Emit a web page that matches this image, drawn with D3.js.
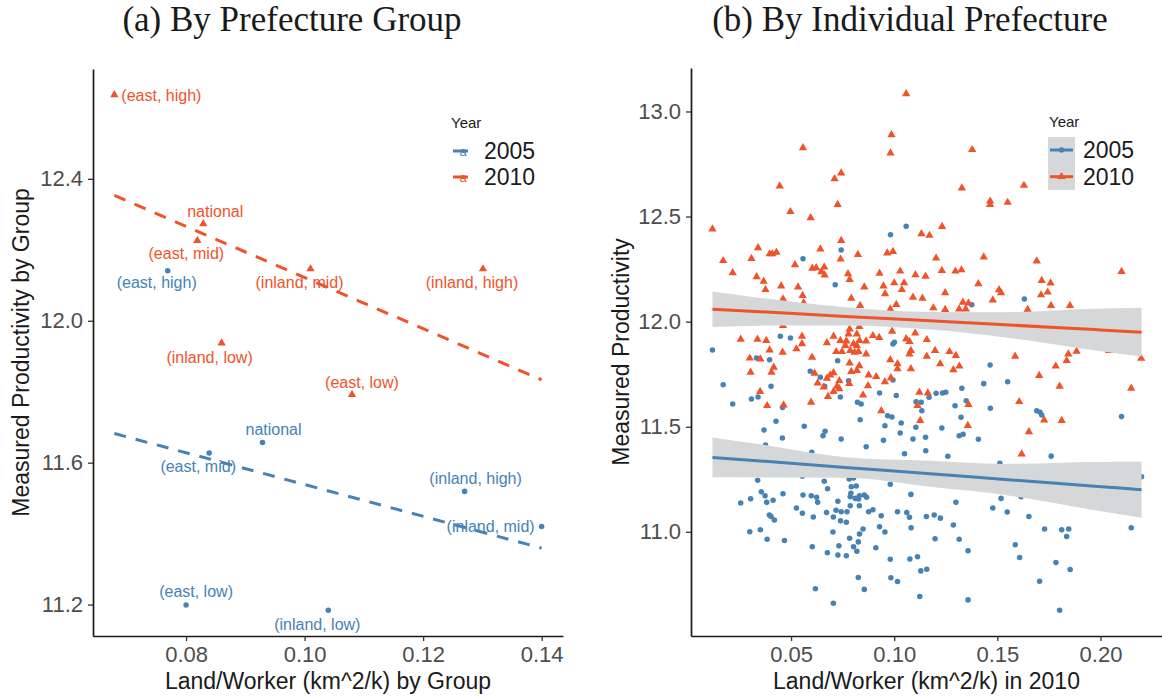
<!DOCTYPE html>
<html>
<head>
<meta charset="utf-8">
<script src="https://cdn.jsdelivr.net/npm/d3@7"></script>
<style>
  body { margin: 0; background: #fff; }
  svg text { font-family: "Liberation Sans", Arial, sans-serif; }
  svg text.title { font-family: "Liberation Serif", "Times New Roman", serif; }
</style>
</head>
<body>
<svg id="chart" width="1162" height="700"></svg>
<script>
// ---- data: (a) prefecture groups ----
const groupNames = ["(east, high)", "(east, mid)", "(east, low)", "(inland, high)", "(inland, mid)", "(inland, low)", "national"];
const groupLand2005 = [0.0769, 0.0839, 0.0800, 0.1270, 0.1400, 0.1040, 0.0929];
const groupProd2005 = [12.141, 11.627, 11.199, 11.519, 11.420, 11.184, 11.657];
const groupLand2010 = [0.0679, 0.0819, 0.1080, 0.1301, 0.1010, 0.0860, 0.0829];
const groupProd2010 = [12.637, 12.226, 11.792, 12.146, 12.146, 11.937, 12.273];
const groupTicksX = [0.08, 0.10, 0.12, 0.14];
const groupTicksY = [11.2, 11.6, 12.0, 12.4];

// ---- data: (b) individual prefectures, [land/worker, productivity] ----
const pref2005 = [
  [0.0743,12.341],[0.0558,12.299],[0.1058,12.454],[0.0982,12.413],[0.0119,11.865],[0.0333,11.827],
  [0.0171,11.700],[0.0217,11.608],[0.0308,11.632],[0.0340,11.641],[0.0714,12.176],[0.0448,11.930],
  [0.0497,11.922],[0.0994,11.894],[0.1001,11.902],[0.0396,11.819],[0.0726,11.814],[0.0593,11.764],
  [0.0642,11.735],[0.0779,11.719],[0.0994,11.722],[0.0663,11.692],[0.0403,11.692],[0.0739,11.641],
  [0.0929,11.660],[0.1010,11.648],[0.0822,11.616],[0.0840,11.608],[0.0459,11.592],[0.1106,11.619],
  [0.1131,11.616],[0.1134,11.576],[0.0968,11.552],[0.0989,11.546],[0.0835,11.533],[0.0427,11.526],
  [0.1034,11.518],[0.0564,11.502],[0.0955,11.505],[0.1105,11.497],[0.1376,12.080],[0.1631,12.108],
  [0.1465,11.794],[0.1550,11.714],[0.1434,11.705],[0.1328,11.683],[0.1169,11.640],[0.1203,11.659],
  [0.1234,11.660],[0.1250,11.664],[0.1349,11.624],[0.1295,11.600],[0.1466,11.588],[0.1691,11.576],
  [0.1707,11.569],[0.1715,11.556],[0.1324,11.545],[0.1231,11.494],[0.2102,11.548],[0.0369,11.484],
  [0.0655,11.457],[0.0665,11.478],[0.0458,11.446],[0.0743,11.441],[0.0376,11.413],[0.0600,11.378],
  [0.0338,11.245],[0.0555,11.264],[0.0661,11.241],[0.0677,11.205],[0.0356,11.190],[0.0374,11.171],
  [0.0256,11.137],[0.0304,11.157],[0.0382,11.140],[0.0413,11.150],[0.0461,11.181],[0.0558,11.175],
  [0.0598,11.171],[0.0624,11.164],[0.0629,11.140],[0.0727,11.145],[0.0526,11.113],[0.0555,11.088],
  [0.0672,11.092],[0.0718,11.103],[0.0743,11.095],[0.0395,11.080],[0.0403,11.073],[0.0419,11.056],
  [0.0608,11.070],[0.0705,11.070],[0.0740,11.052],[0.0300,11.000],[0.0351,11.010],[0.0384,10.965],
  [0.0468,10.959],[0.0703,10.999],[0.0603,10.929],[0.0676,10.900],[0.0732,10.933],[0.0727,10.889],
  [0.0618,10.729],[0.0705,10.660],[0.0864,11.405],[0.1050,11.371],[0.1153,11.386],[0.1260,11.359],
  [0.1512,11.326],[0.0782,11.251],[0.0803,11.256],[0.0792,11.214],[0.0816,11.218],[0.0981,11.226],
  [0.1185,11.232],[0.0790,11.183],[0.0787,11.167],[0.0811,11.159],[0.0831,11.171],[0.0855,11.175],
  [0.0866,11.164],[0.0827,11.156],[0.1081,11.178],[0.0787,11.124],[0.0831,11.124],[0.0771,11.095],
  [0.0876,11.095],[0.0897,11.105],[0.0937,11.076],[0.1016,11.095],[0.1061,11.092],[0.1074,11.069],
  [0.1156,11.073],[0.1194,11.080],[0.1224,11.065],[0.1299,11.140],[0.1478,11.113],[0.0768,11.045],
  [0.0929,11.024],[0.0955,10.999],[0.1082,11.019],[0.1287,11.032],[0.0849,11.013],[0.0832,10.989],
  [0.0784,10.969],[0.0826,10.952],[0.1198,10.967],[0.1315,10.964],[0.0803,10.929],[0.0819,10.907],
  [0.0768,10.886],[0.0911,10.924],[0.1358,10.910],[0.0981,10.869],[0.1076,10.870],[0.1113,10.881],
  [0.1129,10.814],[0.1158,10.822],[0.0826,10.783],[0.0984,10.781],[0.1016,10.764],[0.0855,10.726],
  [0.1124,10.692],[0.1358,10.676],[0.1152,11.450],[0.1091,11.441],[0.0948,11.435],[0.1029,11.470],
  [0.1315,11.457],[0.1334,11.464],[0.1408,11.440],[0.1761,11.360],[0.1518,11.159],[0.2199,11.262],
  [0.1615,11.167],[0.1548,11.094],[0.1653,11.073],[0.1729,11.013],[0.1812,11.010],[0.1846,11.013],
  [0.1836,10.978],[0.2149,11.019],[0.1587,10.938],[0.1608,10.878],[0.1784,10.854],[0.1853,10.821],
  [0.1705,10.765],[0.1802,10.627]
];
const pref2010 = [
  [0.0558,12.827],[0.0743,12.707],[0.0711,12.680],[0.0445,12.645],[0.0726,12.557],[0.0497,12.523],
  [0.0595,12.494],[0.0119,12.440],[0.0743,12.386],[0.0340,12.351],[0.0642,12.345],[0.0171,12.290],
  [0.0308,12.300],[0.0396,12.322],[0.0409,12.322],[0.0429,12.330],[0.0740,12.297],[0.0519,12.270],
  [0.0603,12.254],[0.0622,12.256],[0.0661,12.259],[0.0217,12.232],[0.0647,12.237],[0.0663,12.222],
  [0.0333,12.213],[0.0367,12.192],[0.0256,11.916],[0.0337,11.916],[0.0300,11.826],[0.0304,11.759],
  [0.0350,11.667],[0.1058,13.084],[0.0987,12.889],[0.0982,12.802],[0.1378,12.818],[0.1328,12.635],
  [0.1465,12.573],[0.1465,12.557],[0.1232,12.452],[0.1132,12.418],[0.1171,12.410],[0.0824,12.319],
  [0.0966,12.326],[0.0994,12.333],[0.1203,12.302],[0.1434,12.307],[0.0776,12.227],[0.0929,12.230],
  [0.1029,12.240],[0.1103,12.223],[0.1152,12.216],[0.1231,12.243],[0.1297,12.240],[0.1326,12.246],
  [0.1629,12.648],[0.1550,12.567],[0.1691,12.288],[0.2102,12.238],[0.2042,11.862],[0.2197,11.825],
  [0.2149,11.683],[0.0452,12.169],[0.0376,12.152],[0.0534,12.164],[0.0784,12.200],[0.0855,12.164],
  [0.0948,12.169],[0.1000,12.184],[0.1048,12.184],[0.1037,12.152],[0.0956,12.132],[0.0556,12.124],
  [0.0461,12.108],[0.0792,12.111],[0.1091,12.116],[0.1137,12.111],[0.1010,12.081],[0.0561,12.089],
  [0.0835,12.076],[0.0981,12.060],[0.0461,11.981],[0.0784,11.965],[0.0831,11.976],[0.0990,11.954],
  [0.1102,11.945],[0.0553,11.930],[0.0706,11.930],[0.0779,11.941],[0.0819,11.941],[0.0897,11.933],
  [0.0927,11.924],[0.0380,11.910],[0.0739,11.910],[0.0768,11.907],[0.0832,11.910],[0.0864,11.907],
  [0.1058,11.918],[0.1074,11.905],[0.0674,11.899],[0.0553,11.894],[0.0803,11.894],[0.0819,11.886],
  [0.0763,11.886],[0.0396,11.865],[0.0526,11.870],[0.0459,11.854],[0.0719,11.857],[0.0747,11.857],
  [0.0787,11.862],[0.0808,11.854],[0.0827,11.857],[0.0864,11.846],[0.1081,11.862],[0.1074,11.846],
  [0.0602,11.830],[0.0351,11.822],[0.0981,11.818],[0.0784,11.803],[0.1016,11.799],[0.0831,11.790],
  [0.0416,11.783],[0.1016,11.775],[0.1081,11.775],[0.0405,11.759],[0.0819,11.767],[0.0706,11.756],
  [0.0690,11.746],[0.0614,11.754],[0.0876,11.746],[0.0913,11.738],[0.0792,11.762],[0.0674,11.730],
  [0.0734,11.719],[0.0984,11.733],[0.0955,11.714],[0.0629,11.708],[0.0782,11.705],[0.0723,11.692],
  [0.0873,11.695],[0.0658,11.688],[0.0734,11.680],[0.0706,11.667],[0.0679,11.643],[0.0849,11.651],
  [0.1122,11.664],[0.0597,11.616],[0.0464,11.603],[0.0384,11.600],[0.1113,11.600],[0.0937,11.576],
  [0.1126,11.529],[0.1408,12.180],[0.1715,12.195],[0.1758,12.183],[0.1247,12.137],[0.1508,12.151],
  [0.1518,12.137],[0.1712,12.127],[0.1744,12.140],[0.1478,12.103],[0.1333,12.092],[0.1360,12.088],
  [0.1190,12.065],[0.1247,12.057],[0.1315,12.060],[0.1347,12.060],[0.1760,12.076],[0.1852,12.076],
  [0.1647,12.057],[0.1158,11.914],[0.1198,11.862],[0.1268,11.857],[0.1299,11.838],[0.1158,11.835],
  [0.1586,11.835],[0.1844,11.846],[0.1884,11.859],[0.1836,11.814],[0.1223,11.799],[0.1316,11.788],
  [0.1287,11.771],[0.1783,11.788],[0.1703,11.743],[0.1802,11.692],[0.1163,11.660],[0.1606,11.619],
  [0.1360,11.605],[0.1727,11.532],[0.1812,11.529],[0.1357,11.505],[0.1653,11.476],[0.1618,11.370]
];
const prefTicksX = [0.05, 0.10, 0.15, 0.20];
const prefTicksY = [11.0, 11.5, 12.0, 12.5, 13.0];

// lm fit with 95% band
const bandX   = [0.0119, 0.0351, 0.0763, 0.1174, 0.1537, 0.1973, 0.2199];
const fit2005 = [11.354, 11.337, 11.306, 11.276, 11.249, 11.217, 11.200];
const lo2005  = [11.259, 11.258, 11.257, 11.214, 11.175, 11.102, 11.067];
const hi2005  = [11.449, 11.416, 11.355, 11.338, 11.323, 11.332, 11.333];
const fit2010 = [12.059, 12.047, 12.025, 12.004, 11.985, 11.962, 11.950];
const lo2010  = [11.975, 11.981, 11.982, 11.962, 11.925, 11.863, 11.834];
const hi2010  = [12.143, 12.113, 12.068, 12.046, 12.045, 12.061, 12.066];

const years = ["2005", "2010"];

// ---- styling / layout ----
const colors = { "2005": "#4682b4", "2010": "#f0532a" };
const ink = "#1a1a1a";
const tickInk = "#4d4d4d";

// label nudges in px for the group labels (same order as groupNames)
const labelNudge = {
  "2005": [[-11, 12], [-11, 13], [10, -13], [11, -13], [-51, 0], [-11, 14], [11, -13]],
  "2010": [[47, 1], [-11, 13], [10, -12], [-11, 14], [-11, 14], [-12, 14], [12, -12]]
};

const svg = d3.select("#chart");

function expand(vals) {
  const [a, b] = d3.extent(vals);
  const pad = (b - a) * 0.05;
  return [a - pad, b + pad];
}

function lm(xs, ys) {
  const mx = d3.mean(xs), my = d3.mean(ys);
  const sxy = d3.sum(xs, (x, i) => (x - mx) * (ys[i] - my));
  const sxx = d3.sum(xs, x => (x - mx) ** 2);
  const slope = sxy / sxx;
  return x => my + slope * (x - mx);
}

function styleAxis(g) {
  g.attr("font-family", null).attr("font-size", null);
  g.select(".domain").attr("stroke", ink).attr("stroke-width", 1.7);
  g.selectAll(".tick line").attr("stroke", "#333").attr("stroke-width", 1.3);
  g.selectAll(".tick text").attr("fill", tickInk).attr("font-size", 22);
}

const symCircle = d3.symbol(d3.symbolCircle, 24);
const symTriangle = d3.symbol(d3.symbolTriangle, 30);

// =================== (a) By Prefecture Group ===================
{
  const box = { left: 93, right: 563, top: 69, bottom: 636 };
  const g = svg.append("g");

  const allX = groupLand2005.concat(groupLand2010);
  const allY = groupProd2005.concat(groupProd2010);
  const x = d3.scaleLinear().domain(expand(allX)).range([box.left, box.right]);
  const y = d3.scaleLinear().domain(expand(allY)).range([box.bottom, box.top]);

  g.append("g")
    .attr("transform", `translate(0,${box.bottom})`)
    .call(d3.axisBottom(x).tickValues(groupTicksX).tickFormat(d3.format(".2f"))
      .tickSize(5).tickPadding(5).tickSizeOuter(0))
    .call(styleAxis);
  g.append("g")
    .attr("transform", `translate(${box.left},0)`)
    .call(d3.axisLeft(y).tickValues(groupTicksY).tickFormat(d3.format(".1f"))
      .tickSize(5).tickPadding(5).tickSizeOuter(0))
    .call(styleAxis);

  const series = {
    "2005": { xs: groupLand2005, ys: groupProd2005 },
    "2010": { xs: groupLand2010, ys: groupProd2010 }
  };
  const xr = d3.extent(allX);

  // dashed fits over the full x range
  years.forEach(yr => {
    const f = lm(series[yr].xs, series[yr].ys);
    g.append("line")
      .attr("x1", x(xr[0])).attr("y1", y(f(xr[0])))
      .attr("x2", x(xr[1])).attr("y2", y(f(xr[1])))
      .attr("stroke", colors[yr]).attr("stroke-width", 3)
      .attr("stroke-dasharray", "12,10");
  });

  years.forEach(yr => {
    const s = series[yr];
    const sym = yr === "2005" ? symCircle : symTriangle;
    g.append("g").selectAll("path")
      .data(groupNames)
      .join("path")
      .attr("d", sym)
      .attr("transform", (d, i) => `translate(${x(s.xs[i])},${y(s.ys[i])})`)
      .attr("fill", colors[yr]);
    g.append("g").selectAll("text")
      .data(groupNames)
      .join("text")
      .attr("x", (d, i) => x(s.xs[i]) + labelNudge[yr][i][0])
      .attr("y", (d, i) => y(s.ys[i]) + labelNudge[yr][i][1])
      .attr("text-anchor", "middle")
      .attr("dominant-baseline", "central")
      .attr("font-size", 16)
      .attr("fill", colors[yr])
      .text(d => d);
  });

  // legend
  const lg = g.append("g");
  lg.append("text").attr("x", 451).attr("y", 128).attr("font-size", 15).attr("fill", ink).text("Year");
  years.forEach((yr, i) => {
    const cy = 151 + i * 26;
    lg.append("line").attr("x1", 453).attr("x2", 468).attr("y1", cy).attr("y2", cy)
      .attr("stroke", colors[yr]).attr("stroke-width", 3);
    lg.append("text").attr("x", 463).attr("y", cy).attr("text-anchor", "middle")
      .attr("dominant-baseline", "central").attr("font-size", 13).attr("fill", colors[yr]).text("a");
    lg.append("text").attr("x", 484).attr("y", cy + 8).attr("font-size", 23).attr("fill", ink).text(yr);
  });

  g.append("text")
    .attr("x", (box.left + box.right) / 2).attr("y", 689)
    .attr("text-anchor", "middle").attr("font-size", 23).attr("fill", ink)
    .text("Land/Worker (km^2/k) by Group");
  g.append("text")
    .attr("transform", `translate(21,${(box.top + box.bottom) / 2}) rotate(-90)`)
    .attr("text-anchor", "middle").attr("dominant-baseline", "central")
    .attr("font-size", 23).attr("fill", ink)
    .text("Measured Productivity by Group");
  g.append("text")
    .attr("class", "title")
    .attr("x", 292).attr("y", 31).attr("text-anchor", "middle")
    .attr("font-size", 35).attr("fill", ink)
    .text("(a) By Prefecture Group");
}

// =================== (b) By Individual Prefecture ===================
{
  const box = { left: 691, right: 1163, top: 68, bottom: 636 };
  const g = svg.append("g");

  const allX = pref2005.map(d => d[0]).concat(pref2010.map(d => d[0]));
  const allY = pref2005.map(d => d[1]).concat(pref2010.map(d => d[1]));
  const x = d3.scaleLinear().domain(expand(allX)).range([box.left, box.right]);
  const y = d3.scaleLinear().domain(expand(allY)).range([box.bottom, box.top]);

  g.append("g")
    .attr("transform", `translate(0,${box.bottom})`)
    .call(d3.axisBottom(x).tickValues(prefTicksX).tickFormat(d3.format(".2f"))
      .tickSize(5).tickPadding(5).tickSizeOuter(0))
    .call(styleAxis);
  g.append("g")
    .attr("transform", `translate(${box.left},0)`)
    .call(d3.axisLeft(y).tickValues(prefTicksY).tickFormat(d3.format(".1f"))
      .tickSize(5).tickPadding(5).tickSizeOuter(0))
    .call(styleAxis);

  g.append("g").selectAll("path")
    .data(pref2005).join("path")
    .attr("d", symCircle)
    .attr("transform", d => `translate(${x(d[0])},${y(d[1])})`)
    .attr("fill", colors["2005"]);
  g.append("g").selectAll("path")
    .data(pref2010).join("path")
    .attr("d", symTriangle)
    .attr("transform", d => `translate(${x(d[0])},${y(d[1])})`)
    .attr("fill", colors["2010"]);

  const bands = {
    "2005": { fit: fit2005, lo: lo2005, hi: hi2005 },
    "2010": { fit: fit2010, lo: lo2010, hi: hi2010 }
  };
  const area = d3.area().curve(d3.curveMonotoneX)
    .x((d, i) => x(bandX[i]));
  const line = d3.line().curve(d3.curveMonotoneX)
    .x((d, i) => x(bandX[i])).y(d => y(d));

  years.forEach(yr => {
    const b = bands[yr];
    g.append("path")
      .datum(bandX)
      .attr("d", area.y0((d, i) => y(b.lo[i])).y1((d, i) => y(b.hi[i])))
      .attr("fill", "#d6d7d9");
    g.append("path")
      .datum(b.fit)
      .attr("d", line)
      .attr("fill", "none").attr("stroke", colors[yr]).attr("stroke-width", 3);
  });

  // legend
  const lg = g.append("g");
  lg.append("text").attr("x", 1049).attr("y", 127).attr("font-size", 15).attr("fill", ink).text("Year");
  lg.append("rect").attr("x", 1048).attr("y", 137).attr("width", 27).attr("height", 53).attr("fill", "#d6d7d9");
  years.forEach((yr, i) => {
    const cy = 150 + i * 26.7;
    lg.append("line").attr("x1", 1050).attr("x2", 1073).attr("y1", cy).attr("y2", cy)
      .attr("stroke", colors[yr]).attr("stroke-width", 3);
    lg.append("path").attr("d", yr === "2005" ? symCircle : symTriangle)
      .attr("transform", `translate(1061.5,${cy})`).attr("fill", colors[yr]);
    lg.append("text").attr("x", 1083).attr("y", cy + 8).attr("font-size", 23).attr("fill", ink).text(yr);
  });

  g.append("text")
    .attr("x", (box.left + 1162) / 2).attr("y", 689)
    .attr("text-anchor", "middle").attr("font-size", 23).attr("fill", ink)
    .text("Land/Worker (km^2/k) in 2010");
  g.append("text")
    .attr("transform", `translate(621,${(box.top + box.bottom) / 2}) rotate(-90)`)
    .attr("text-anchor", "middle").attr("dominant-baseline", "central")
    .attr("font-size", 23).attr("fill", ink)
    .text("Measured Productivity");
  g.append("text")
    .attr("class", "title")
    .attr("x", 910).attr("y", 31).attr("text-anchor", "middle")
    .attr("font-size", 35).attr("fill", ink)
    .text("(b) By Individual Prefecture");
}
</script>
</body>
</html>
